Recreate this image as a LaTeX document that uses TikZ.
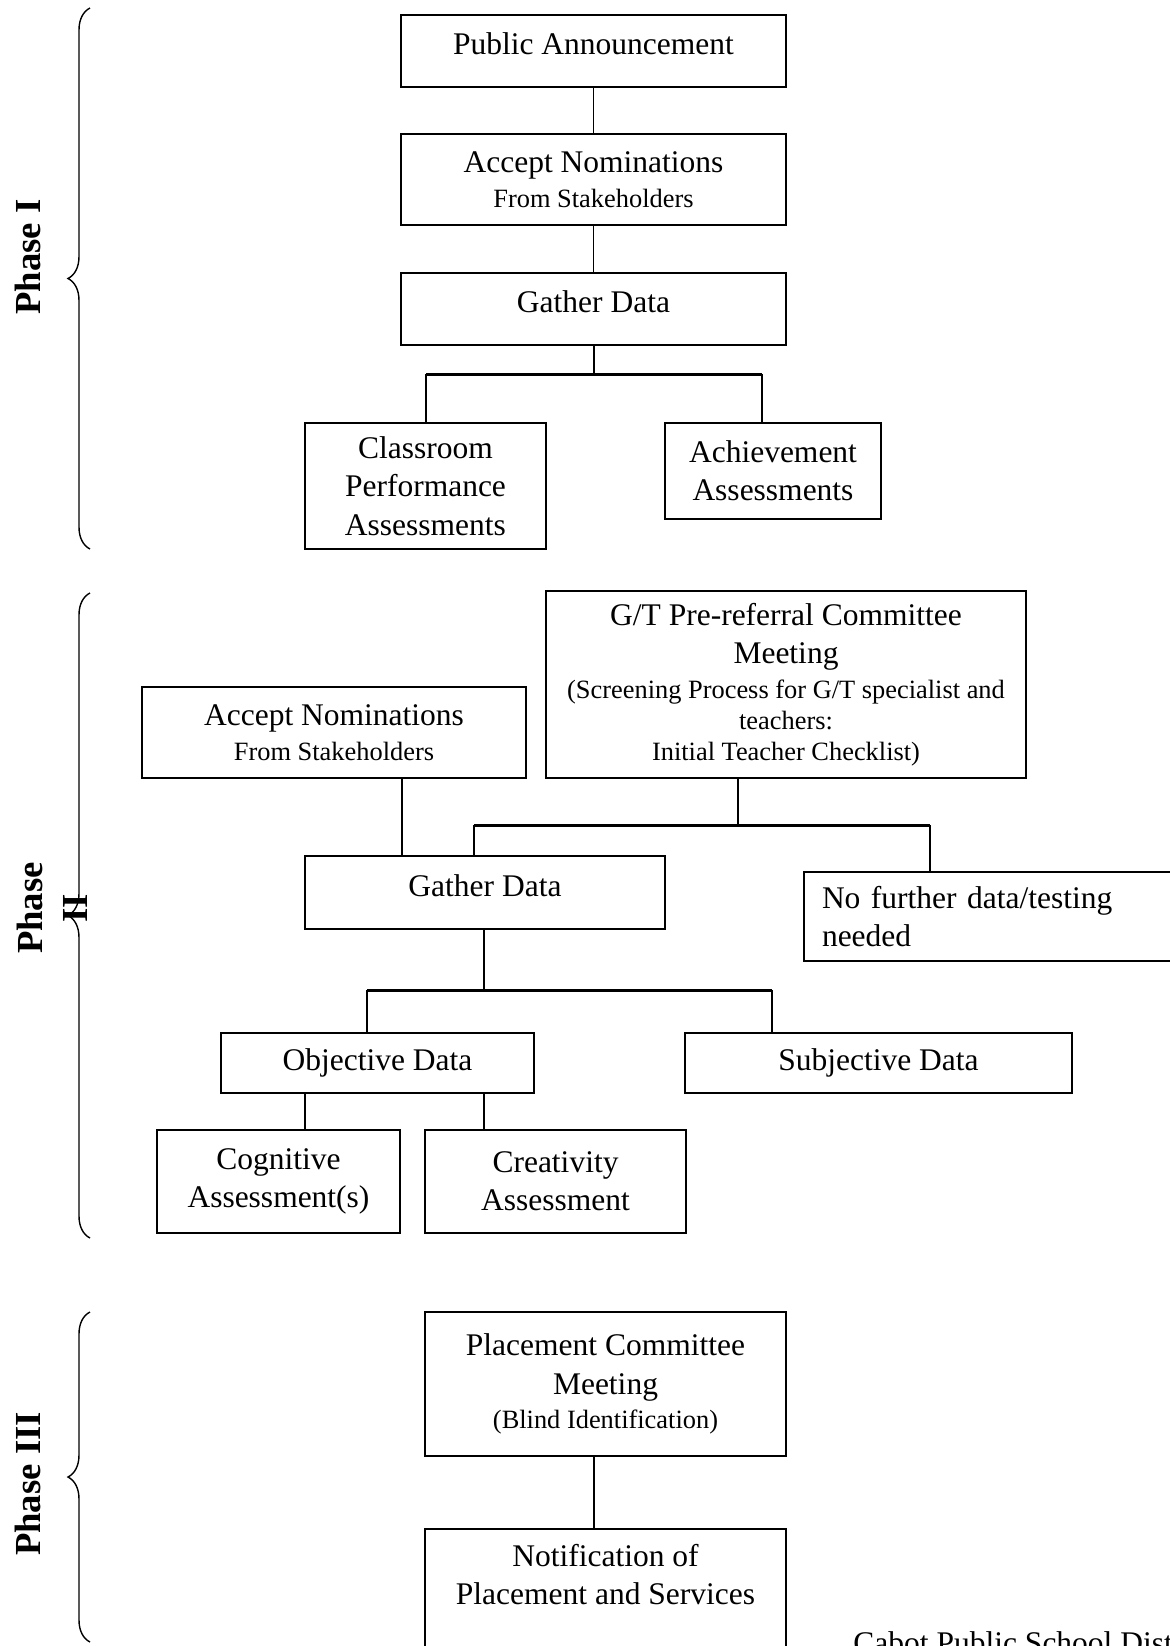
\documentclass[tikz,border=0pt]{standalone}
\usepackage{fontspec}
\setmainfont{Liberation Serif}
\usetikzlibrary{decorations.pathreplacing}

\newcommand{\smalltxt}[1]{{\fontsize{13.2}{15.6}\selectfont #1}}

\begin{document}
\begin{tikzpicture}
  [x=1pt,y=-1pt,line width=0.8pt,
   every node/.style={font=\fontsize{15.75}{19.2}\selectfont,align=center},
   box/.style={draw,inner sep=2pt},
   branch/.style={line width=1.5pt},
   phasebrace/.style={decorate,decoration={brace,amplitude=11pt},line width=0.7pt},
   phaselabel/.style={rotate=90,font=\fontsize{18.35}{22.5}\selectfont\bfseries}]
  \useasboundingbox (0,0) rectangle (585,823);
  \clip (0,0) rectangle (585,823);

  % phase I
  \node[box,minimum width=192.5pt,minimum height=36pt,text depth=7pt] (pa) at (296.75,25.5) {Public Announcement};
  \node[box,minimum width=192.5pt,minimum height=45.5pt] (an1) at (296.75,89.75) {Accept Nominations\\[-2pt]\smalltxt{From Stakeholders}};
  \node[box,minimum width=192.5pt,minimum height=36pt,text depth=7pt] (gd1) at (296.75,154.5) {Gather Data};
  \node[box,minimum width=120.5pt,minimum height=63pt] (cpa) at (212.75,243) {Classroom\\Performance\\Assessments};
  \node[box,minimum width=108pt,minimum height=48pt] (ach) at (386.5,235.5) {Achievement\\Assessments};

  \foreach \from/\to in {pa/an1,an1/gd1}
    \draw (\from) -- (\to);

  \coordinate (j1) at (297,187);
  \coordinate (j1l) at (213,187);
  \coordinate (j1r) at (381,187);
  \draw (j1 |- gd1.south) -- (j1);
  \draw[branch] (j1l) -- (j1r);
  \draw (j1l) -- (j1l |- cpa.north);
  \draw (j1r) -- (j1r |- ach.north);

  % phase II
  \node[box,minimum width=240pt,minimum height=93.5pt] (gt) at (393,342.25) {G/T Pre-referral Committee\\Meeting\\[-2pt]\smalltxt{(Screening Process for G/T specialist and}\\[-3.7pt]\smalltxt{teachers:}\\[-3.7pt]\smalltxt{Initial Teacher Checklist)}};
  \node[box,minimum width=192pt,minimum height=45.5pt] (an2) at (167,366.25) {Accept Nominations\\[-2pt]\smalltxt{From Stakeholders}};
  \node[box,minimum width=180pt,minimum height=36.5pt,text depth=7pt] (gd2) at (242.5,446.25) {Gather Data};
  \node[box,minimum width=193pt,minimum height=44.5pt,align=left,text width=175pt] (nf) at (498.5,458.25) {No further data/testing\\needed};
  \node[box,minimum width=156.5pt,minimum height=30pt] (obj) at (188.75,531.5) {Objective Data};
  \node[box,minimum width=193.5pt,minimum height=30pt] (subj) at (439.25,531.5) {Subjective Data};
  \node[box,minimum width=121.5pt,minimum height=51.5pt] (cog) at (139.25,590.75) {Cognitive\\Assessment(s)};
  \node[box,minimum width=130.5pt,minimum height=51.5pt] (cre) at (277.75,590.75) {Creativity\\Assessment};

  \draw ([xshift=34pt]an2.south) -- ([xshift=34pt]an2.south |- gd2.north);

  \coordinate (j2) at (369,412.5);
  \coordinate (j2l) at (237,412.5);
  \coordinate (j2r) at (465,412.5);
  \draw (j2 |- gt.south) -- (j2);
  \draw[branch] (j2l) -- (j2r);
  \draw (j2l) -- (j2l |- gd2.north);
  \draw (j2r) -- (j2r |- nf.north);

  \coordinate (j3) at (242,495);
  \coordinate (j3l) at (183.5,495);
  \coordinate (j3r) at (386,495);
  \draw (j3 |- gd2.south) -- (j3);
  \draw[branch] (j3l) -- (j3r);
  \draw (j3l) -- (j3l |- obj.north);
  \draw (j3r) -- (j3r |- subj.north);

  \draw ([xshift=13.25pt]cog.north) -- ([xshift=13.25pt]cog.north |- obj.south);
  \draw ([xshift=-35.75pt]cre.north) -- ([xshift=-35.75pt]cre.north |- obj.south);

  % phase III
  \node[box,minimum width=180.5pt,minimum height=72pt] (pcm) at (302.75,692) {Placement Committee\\Meeting\\[-2pt]\smalltxt{(Blind Identification)}};
  \node[box,anchor=north,minimum width=180.5pt,inner ysep=7.5pt,text depth=50pt] (nps) at (302.75,764) {Notification of\\Placement and Services};

  \draw ([xshift=-5.75pt]pcm.south) -- ([xshift=-5.75pt]nps.north);

  \node[anchor=base west] (cabot) at (423,826.5) {Cabot Public School District};

  % braces and phase labels
  \draw[phasebrace] (45,274.5) -- (45,4);
  \draw[phasebrace] (45,619) -- (45,296.5);
  \draw[phasebrace] (45,821) -- (45,656);

  \node[phaselabel] (p1) at (14,128.5) {Phase I};
  \node[phaselabel] (p2) at (26,454) {Phase\\II};
  \node[phaselabel] (p3) at (14,742) {Phase III};

\end{tikzpicture}
\end{document}
